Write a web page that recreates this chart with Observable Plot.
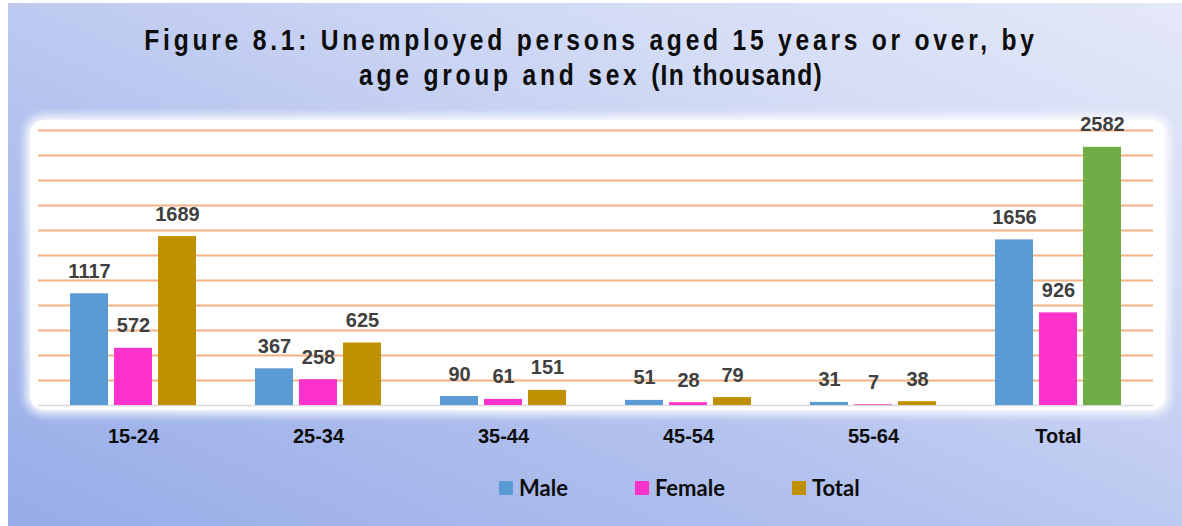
<!DOCTYPE html>
<html>
<head>
<meta charset="utf-8">
<script src="https://cdn.jsdelivr.net/npm/d3@7"></script>
<script src="https://cdn.jsdelivr.net/npm/@observablehq/plot@0.6"></script>
<style>
  html, body { margin: 0; padding: 0; background: #ffffff; }
  #frame { position: relative; width: 1182px; height: 526px; overflow: hidden; background: #fff; }
  #bg { position: absolute; left: 8px; top: 3px; right: 0; bottom: 0;
        background: linear-gradient(to top right, #97ace8 0%, #b4c2ee 40%, #d4dcf5 75%, #e4e8f8 100%); }
  #title { position: absolute; left: 0; width: 1182px; top: 22px; text-align: center;
           font-family: "Liberation Sans", Arial, sans-serif;
           font-weight: bold; font-size: 30px; line-height: 35px; color: #0d0d0d; letter-spacing: 4.6px;
           transform: scaleX(0.82); transform-origin: 591px 0; }
  #title .tight { letter-spacing: 1.5px; }
  #panel { position: absolute; left: 30px; top: 120px; width: 1135px; height: 290px;
           background: #ffffff; border-radius: 14px;
           box-shadow: 0 0 8px 5px rgba(255,255,255,0.85); }
  #grid, #chart { position: absolute; left: 0; top: 110px; }
  #legend { position: absolute; left: 499px; top: 474px; display: flex; gap: 67px;
            font-family: Lato, "Open Sans", sans-serif; font-weight: bold; font-size: 22px; color: #0d0d0d; }
  #legend .item { display: flex; align-items: center; gap: 6px; }
  #legend .sw { width: 14px; height: 14px; display: inline-block; }
</style>
</head>
<body>
<div id="frame">
  <div id="bg"></div>
  <div id="title">Figure 8.1: Unemployed persons aged 15 years or over, by<br>age group and sex <span class="tight">(In thousand)</span></div>
  <div id="panel"></div>
  <div id="grid"></div>
  <div id="chart"></div>
  <div id="legend"></div>
</div>
<script>
// ---- data ----
const groups = ["15-24", "25-34", "35-44", "45-54", "55-64", "Total"];
const sexes = ["Male", "Female", "Total"];
const male = [1117, 367, 90, 51, 31, 1656];
const female = [572, 258, 61, 28, 7, 926];
const total = [1689, 625, 151, 79, 38, 2582];
const gridValues = [250, 500, 750, 1000, 1250, 1500, 1750, 2000, 2250, 2500, 2750];

const seriesColors = {Male: "#5B9BD5", Female: "#FF33CC", Total: "#BF9000", Overall: "#70AD47"};

const rows = [];
groups.forEach((g, i) => {
  rows.push({group: g, sex: "Male", value: male[i]});
  rows.push({group: g, sex: "Female", value: female[i]});
  rows.push({group: g, sex: "Total", value: total[i]});
});
rows.forEach(d => { d.key = (d.group === "Total" && d.sex === "Total") ? "Overall" : d.sex; });

const labelFont = "'Liberation Sans', Arial, sans-serif";
const frameOpts = {
  width: 1182,
  height: 350,
  marginTop: 20,
  marginBottom: 55,
  marginLeft: 38,
  marginRight: 29,
  style: {background: "transparent", overflow: "visible"}
};
const yScale = {domain: [0, 2750], axis: null};

// gridlines layer (spans the whole plot width)
const grid = Plot.plot({
  ...frameOpts,
  y: yScale,
  marks: [
    Plot.ruleY(gridValues, {stroke: "#F4B183", strokeWidth: 2}),
    Plot.ruleY([0], {stroke: "#d9d9d9", strokeWidth: 1.5})
  ]
});
document.getElementById("grid").appendChild(grid);

// bars layer
const chart = Plot.plot({
  ...frameOpts,
  fx: {domain: groups, paddingInner: 0.32, paddingOuter: 0.16, label: null},
  x: {domain: sexes, paddingInner: 0.14, paddingOuter: 0, axis: null},
  y: yScale,
  color: {domain: Object.keys(seriesColors), range: Object.values(seriesColors)},
  marks: [
    Plot.barY(rows, {fx: "group", x: "sex", y: "value", fill: "key"}),
    Plot.text(rows, {fx: "group", x: "sex", y: "value", text: d => String(d.value),
      lineAnchor: "bottom", dy: -16, fontSize: 20, fontWeight: "bold", fill: "#404040", fontFamily: labelFont}),
    Plot.axisFx({anchor: "bottom", tickSize: 0, tickPadding: 23, fontSize: 20, fontWeight: "bold",
      fill: "#0d0d0d", fontFamily: labelFont, label: null})
  ]
});
document.getElementById("chart").appendChild(chart);

// ---- legend ----
const legend = document.getElementById("legend");
sexes.forEach(s => {
  const item = document.createElement("div");
  item.className = "item";
  const sw = document.createElement("span");
  sw.className = "sw";
  sw.style.background = seriesColors[s];
  const t = document.createElement("span");
  t.textContent = s;
  item.appendChild(sw);
  item.appendChild(t);
  legend.appendChild(item);
});
</script>
</body>
</html>
